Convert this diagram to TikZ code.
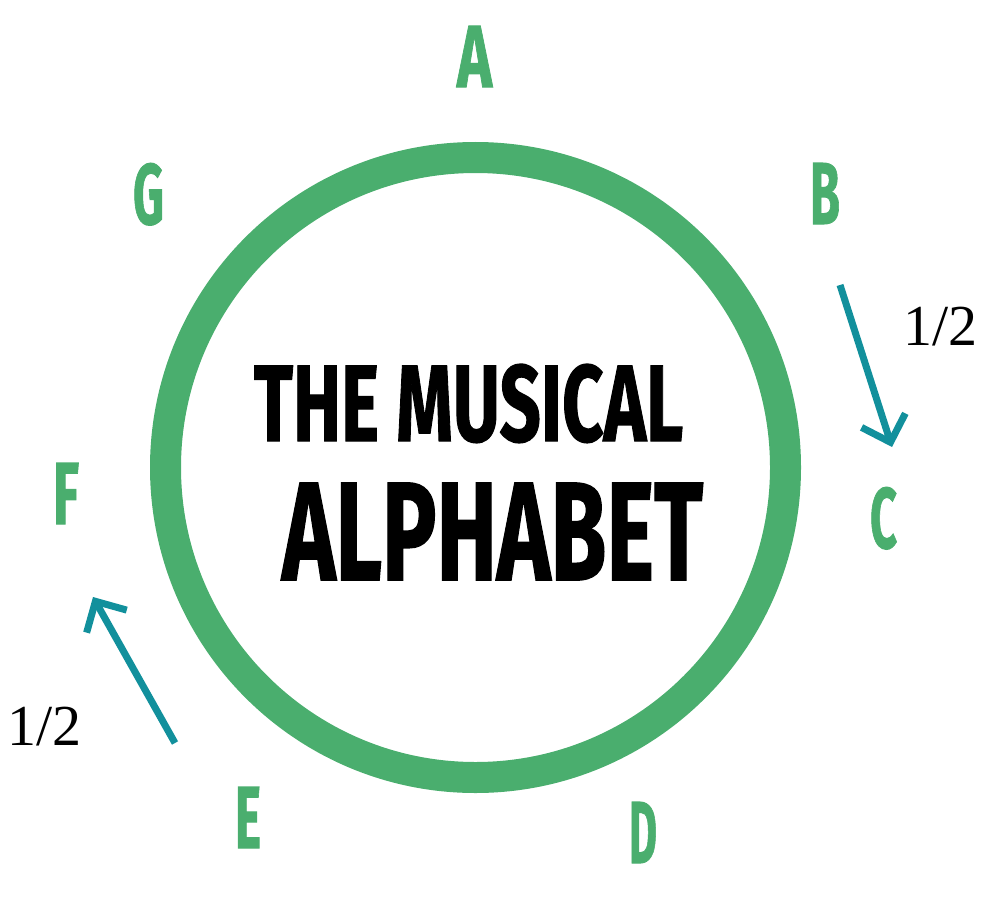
\documentclass[tikz,border=0pt]{standalone}
\usepackage{fontspec}
\usepackage{graphicx}
\usetikzlibrary{arrows.meta}
\newfontfamily\condfont[FakeBold=1.2]{Fira Sans}
\newfontfamily\timesfont{Liberation Serif}
\definecolor{ringgreen}{HTML}{4AAE6E}
\definecolor{arrteal}{HTML}{12909C}
\tikzset{
  note/.style={inner sep=0pt, outer sep=0pt, anchor=north west, text=ringgreen},
  titletext/.style={inner sep=0pt, outer sep=0pt, anchor=north west, text=black},
  halflabel/.style={inner sep=0pt, anchor=base west, font=\timesfont\fontsize{58}{60}\selectfont},
  halfstep/.style={draw=arrteal, line width=7pt, -{Straight Barb[length=23pt,width=46pt]}}
}
\newcommand{\letterbox}[2]{\resizebox{#1pt}{61pt}{\condfont\bfseries #2}}
\begin{document}
\begin{tikzpicture}[x=1pt,y=-1pt]
\useasboundingbox (0,0) rectangle (1000,912);
% ring
\node[circle, draw=ringgreen, line width=31pt, minimum size=620pt, inner sep=0pt] (ring) at (475.5,467.5) {};
% title
\node[titletext] (t1) at (254,364) {\resizebox{429pt}{77pt}{\condfont\bfseries THE MUSICAL}};
\node[titletext] (t2) at (282,483) {\resizebox{421pt}{97pt}{\condfont\bfseries ALPHABET}};
% letters
\node[note] (A) at (457,26) {\letterbox{35}{A}};
\node[note] (B) at (810,163) {\letterbox{30}{B}};
\node[note] (C) at (870,487) {\letterbox{27}{C}};
\node[note] (D) at (629,802) {\letterbox{28}{D}};
\node[note] (E) at (235,787) {\letterbox{26}{E}};
\node[note] (F) at (53,463) {\letterbox{26}{F}};
\node[note] (G) at (133,163) {\letterbox{31}{G}};
% half steps
\coordinate (bc1) at (840,285);
\coordinate (bc2) at (892,447);
\coordinate (ef1) at (175,743);
\coordinate (ef2) at (93,597);
\draw[halfstep] (bc1) -- (bc2);
\draw[halfstep] (ef1) -- (ef2);
\node[halflabel] (h1) at (903,345) {1/2};
\node[halflabel] (h2) at (7,745) {1/2};
\end{tikzpicture}
\end{document}
